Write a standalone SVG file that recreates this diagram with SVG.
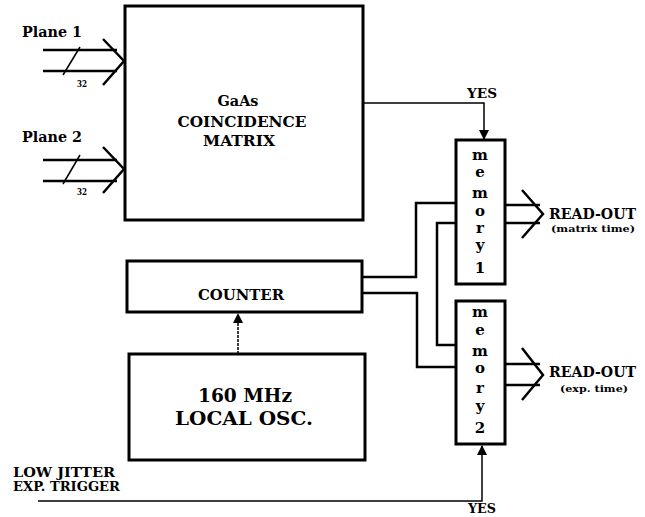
<svg xmlns="http://www.w3.org/2000/svg" width="645" height="517" viewBox="0 0 645 517">
<style>
text{font-family:"DejaVu Serif","Liberation Serif",serif;font-weight:bold;fill:#000}
.box{fill:none;stroke:#000;stroke-width:3}
.w{fill:none;stroke:#000;stroke-width:2.5;stroke-linejoin:miter}
.t{fill:none;stroke:#000;stroke-width:1.5}
.c{text-anchor:middle}
</style>
<defs>
<marker id="ah" markerWidth="10" markerHeight="12" refX="9" refY="5" orient="auto" markerUnits="userSpaceOnUse">
<path d="M0,0 L10,5 L0,10 Z" fill="#000"/>
</marker>
</defs>
<g id="gaas">
<rect class="box" x="125" y="6" width="238" height="214"/>
<text class="c" x="238" y="106" font-size="15" textLength="41" lengthAdjust="spacingAndGlyphs">GaAs</text>
<text class="c" x="242" y="127" font-size="15" textLength="129" lengthAdjust="spacingAndGlyphs">COINCIDENCE</text>
<text class="c" x="239" y="146" font-size="15" textLength="72" lengthAdjust="spacingAndGlyphs">MATRIX</text>
</g>
<g id="counter">
<rect class="box" x="127" y="261" width="235" height="51"/>
<text class="c" x="241" y="300" font-size="15" textLength="86" lengthAdjust="spacingAndGlyphs">COUNTER</text>
</g>
<g id="osc">
<rect class="box" x="129" y="354" width="236" height="106"/>
<text class="c" x="245" y="402" font-size="19" textLength="94" lengthAdjust="spacingAndGlyphs">160  MHz</text>
<text class="c" x="244" y="425" font-size="19" textLength="138" lengthAdjust="spacingAndGlyphs">LOCAL OSC.</text>
</g>
<g id="memory1">
<rect class="box" x="456" y="140" width="49" height="144"/>
<g class="c" font-size="15">
<text x="480" y="160">m</text><text x="480" y="177">e</text><text x="480" y="198">m</text><text x="480" y="216">o</text><text x="480" y="233">r</text><text x="480" y="250">y</text><text x="480" y="273">1</text>
</g>
</g>
<g id="memory2">
<rect class="box" x="456" y="301" width="49" height="143"/>
<g class="c" font-size="15">
<text x="480" y="317">m</text><text x="480" y="335">e</text><text x="480" y="356">m</text><text x="480" y="373">o</text><text x="480" y="393">r</text><text x="480" y="411">y</text><text x="480" y="433">2</text>
</g>
</g>
<g id="plane1">
<text x="22" y="37" font-size="15" textLength="60" lengthAdjust="spacingAndGlyphs">Plane 1</text>
<text class="c" x="82" y="87" font-size="9" textLength="10" lengthAdjust="spacingAndGlyphs">32</text>
</g>
<g id="plane2">
<text x="22" y="142" font-size="15" textLength="60" lengthAdjust="spacingAndGlyphs">Plane 2</text>
<text class="c" x="82" y="195" font-size="9" textLength="10" lengthAdjust="spacingAndGlyphs">32</text>
</g>
<g id="readout1">
<text x="549" y="219" font-size="15" textLength="87" lengthAdjust="spacingAndGlyphs">READ-OUT</text>
<text class="c" x="593" y="232" font-size="10" textLength="84" lengthAdjust="spacingAndGlyphs">(matrix time)</text>
</g>
<g id="readout2">
<text x="549" y="377" font-size="15" textLength="87" lengthAdjust="spacingAndGlyphs">READ-OUT</text>
<text class="c" x="594" y="392" font-size="10" textLength="68" lengthAdjust="spacingAndGlyphs">(exp. time)</text>
</g>
<g id="trigger">
<text x="13" y="477" font-size="13" textLength="102" lengthAdjust="spacingAndGlyphs">LOW JITTER</text>
<text x="13" y="491" font-size="13" textLength="107" lengthAdjust="spacingAndGlyphs">EXP. TRIGGER</text>
</g>
<g id="yes-labels">
<text class="c" x="482" y="98" font-size="13" textLength="30" lengthAdjust="spacingAndGlyphs">YES</text>
<text class="c" x="482" y="513" font-size="13" textLength="28" lengthAdjust="spacingAndGlyphs">YES</text>
</g>
<g id="connectors">
<path class="w" d="M43,50 H117 M43,71 H117"/>
<path class="w" stroke-width="3" d="M103,39 L124,61 L103,85"/>
<path class="t" stroke-width="2" d="M80,47 L63,75"/>
<path class="w" d="M43,160 H117 M43,181 H117"/>
<path class="w" stroke-width="3" d="M103,147 L124,169 L103,193"/>
<path class="t" stroke-width="2" d="M80,155 L63,184"/>
<path class="t" stroke-width="2" d="M363,103 H484 V139" marker-end="url(#ah)"/>
<path class="w" d="M362,277 H416 V203 H456"/>
<path class="w" d="M362,293 H417 V367 H456"/>
<path class="w" d="M456,223 H437 V345 H456"/>
<path class="w" d="M505,205 H540 M505,223 H540"/>
<path class="w" stroke-width="3" d="M522,190 L543,214 L522,238"/>
<path class="w" d="M505,364 H540 M505,385 H540"/>
<path class="w" stroke-width="3" d="M522,348 L543,375 L522,400"/>
<path class="t" stroke-width="1.2" stroke-dasharray="3,1" d="M238,354 V314" marker-end="url(#ah)"/>
<path class="t" stroke-width="2" d="M38,501 H482 V446" marker-end="url(#ah)"/>
</g>
</svg>
